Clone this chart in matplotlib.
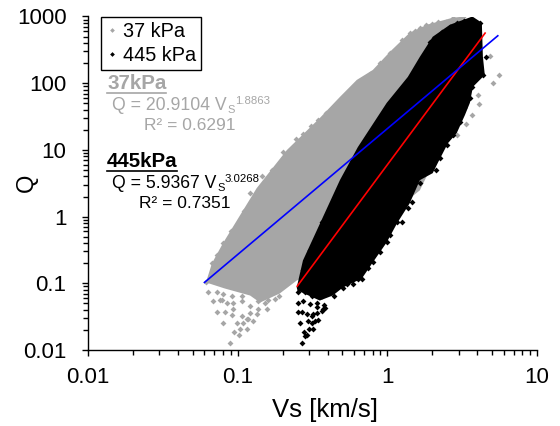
import matplotlib
matplotlib.use("Agg")
import matplotlib.pyplot as plt
import matplotlib.ticker as mticker
from matplotlib.lines import Line2D

plt.rcParams['font.family'] = ['Liberation Sans', 'DejaVu Sans']

# Dense body of each cloud (Vs, Q)
gray_body_vs = [0.0614,0.0673,0.0796,0.0989,0.134,0.213,0.354,0.482,0.625,0.80,1.04,1.41,1.84,2.74,3.19,3.56,3.56,1.65,0.354,0.248,0.191,0.141,0.121,0.082]
gray_body_q  = [0.103,0.199,0.396,0.879,2.67,9.93,30.1,62.2,112,158,295,570,753,960,993,631,87,2.48,0.156,0.110,0.0703,0.0514,0.0656,0.0836]
black_body_vs = [0.252,0.248,0.273,0.338,0.482,0.635,0.99,1.37,1.65,2.01,2.62,3.7,4.28,4.35,4.48,3.73,3.56,3.30,2.91,2.54,2.17,2.01,1.65,1.41,1.16,0.99,0.80,0.676,0.505,0.432,0.354,0.26]
black_body_q  = [0.0753,0.0865,0.220,0.622,3.52,11.0,50.6,124,249,497,753,1000,807,249,133,88,50.6,33.3,17.9,12.6,6.33,4.48,3.52,1.58,0.79,0.41,0.206,0.118,0.0865,0.0656,0.0551,0.0753]

# Individually visible points around the edges
gray_pts_vs = [5.56,5.07,4.03,4.08,3.67,3.34,2.91,4.84,3.19,2.74,2.46,2.17,1.98,1.81,1.65,1.53,1.41,1.25,1.04,
               0.0887,0.102,0.0944,0.115,0.0796,0.0989,0.134,0.0726,0.082,0.157,0.0683,0.0783,0.188,0.0619,0.0673,0.0726,0.0796,
               0.245,0.273,0.308,0.344,0.388,0.439,0.520,0.579,0.676,0.764,0.891,0.200,0.169,0.145,0.120,0.110,0.0902,
               0.1035,0.108,0.0929,0.126,0.117,0.0914,0.107,0.121,0.136,0.115,0.076,0.0847,0.0929,0.107,0.159,0.0632,0.0726,0.0796,0.0914,0.107,0.121,0.136,0.152,0.177]
gray_pts_q  = [133,100,66.7,48.9,33.3,24.4,16.7,257,993,960,836,836,780,753,679,612,570,448,285,
               0.0129,0.017,0.0188,0.0209,0.0257,0.0257,0.0352,0.0377,0.0377,0.0417,0.055,0.057,0.0656,0.103,0.199,0.262,0.396,
               14.5,17.3,22.7,28.1,35.7,45.5,60.1,76.6,105,138,202,9.27,5.0,4.04,2.24,1.2,0.6,
               0.0209,0.0257,0.0418,0.0276,0.0296,0.034,0.0328,0.0364,0.0418,0.0296,0.057,0.0514,0.0514,0.0551,0.057,0.0753,0.0753,0.0703,0.0656,0.0656,0.0463,0.0551,0.0514,0.059]
black_pts_vs = [0.269,0.281,0.299,0.260,0.328,0.294,0.252,0.382,0.338,0.439,0.505,0.676,0.589,0.80,0.99,1.16,1.25,1.46,
                0.277,0.313,0.344,0.318,0.365,0.269,
                3.24,2.91,4.15,2.62,2.31,3.96,4.55,4.35,3.67,4.03,1.92,3.56,3.24,3.05,2.74,2.50,2.24,2.11,1.65,1.37,1.04,0.891,0.741,0.589,
                0.260,0.273,0.303,0.365,
                0.290,0.318,0.290,0.313,0.338,0.371,0.252,0.273,0.303,0.338,0.377,0.252,0.281,0.313,0.365,0.536,0.635]
black_pts_q  = [0.0129,0.0164,0.0209,0.0257,0.0275,0.0275,0.0377,0.0433,0.0448,0.0656,0.0865,0.118,0.118,0.206,0.41,0.82,0.82,1.64,
                0.0188,0.0257,0.0286,0.0352,0.039,0.0377,
                865,807,807,701,590,570,249,133,88,188,418,60.1,42.5,26.2,16.7,11.8,7.53,4.97,3.16,1.33,0.524,0.290,0.167,0.0993,
                0.0927,0.156,0.311,0.82,
                0.017,0.0209,0.0352,0.0328,0.0364,0.0418,0.0514,0.0551,0.0497,0.0514,0.048,0.0753,0.0728,0.0656,0.0656,0.0993,0.118]

# Fitted lines (end points)
fit37_vs, fit37_q = [0.06, 5.47], [0.103, 514]
fit445_vs, fit445_q = [0.25, 4.5], [0.0906, 564]

GRAY = '#a6a6a6'
fig = plt.figure(figsize=(5.6, 4.26), dpi=100)
ax = fig.add_axes([88/560, 1-350/426, (537-88)/560, (350-16.5)/426])
ax.set_xscale('log'); ax.set_yscale('log')
ax.set_xlim(0.01, 10); ax.set_ylim(0.01, 1000)

ax.fill(gray_body_vs, gray_body_q, color=GRAY, lw=0, zorder=2)
ax.scatter(gray_pts_vs, gray_pts_q, s=9, marker='D', color=GRAY, lw=0, zorder=2)
ax.fill(black_body_vs, black_body_q, color='black', lw=0, zorder=3)
ax.scatter(black_pts_vs, black_pts_q, s=9, marker='D', color='black', lw=0, zorder=3)
ax.plot(fit37_vs, fit37_q, color='#0000ff', lw=1.2, zorder=5)
ax.plot(fit445_vs, fit445_q, color='#ff0000', lw=1.2, zorder=4)

for s in ('top', 'right'):
    ax.spines[s].set_visible(False)
for s in ('left', 'bottom'):
    ax.spines[s].set_linewidth(1.0)
ax.set_xticks([0.01, 0.1, 1, 10]); ax.set_xticklabels(['0.01', '0.1', '1', '10'])
ax.set_yticks([0.01, 0.1, 1, 10, 100, 1000]); ax.set_yticklabels(['0.01', '0.1', '1', '10', '100', '1000'])
ax.xaxis.set_minor_locator(mticker.LogLocator(10, subs=range(2, 10), numticks=6))
ax.yaxis.set_minor_locator(mticker.LogLocator(10, subs=range(2, 10), numticks=8))
ax.xaxis.set_minor_formatter(mticker.NullFormatter())
ax.yaxis.set_minor_formatter(mticker.NullFormatter())
ax.tick_params(which='major', length=4.5, width=1, labelsize=16)
ax.tick_params(which='minor', length=3.5, width=1)
ax.tick_params(axis='y', which='major', pad=11)
ax.tick_params(axis='x', which='major', pad=8)
ax.set_xlabel('Vs [km/s]', fontsize=18.5)
ax.set_ylabel('Q', fontsize=17)
ax.xaxis.set_label_coords(324.5/560, 1-417/426, transform=fig.transFigure)
ax.xaxis.label.set_va('baseline')
ax.yaxis.set_label_coords(27/560, 1-183/426, transform=fig.transFigure)
ax.yaxis.label.set_va('center')

handles = [Line2D([], [], ls='', marker='D', ms=2.4, color=GRAY, mew=0),
           Line2D([], [], ls='', marker='D', ms=2.4, color='black', mew=0)]
leg = fig.legend(handles, ['37 kPa', '445 kPa'], loc='upper left', bbox_to_anchor=(101/560, 1-17/426),
                 fontsize=14.3, frameon=True, fancybox=False, edgecolor='black', framealpha=1,
                 borderpad=0.25, labelspacing=0.25, handletextpad=0.25, handlelength=0.6, borderaxespad=0)
leg.get_frame().set_linewidth(1.0)

def t(x, y, s, **kw):
    return fig.text(x/560, 1-y/426, s, va='baseline', **kw)

def rule(x0, x1, y, color):
    fig.add_artist(Line2D([x0/560, x1/560], [1-y/426, 1-y/426], color=color, lw=1.2))

t(107, 89, '37kPa', color=GRAY, fontsize=14.8, fontweight='bold')
rule(107, 166, 93, GRAY)
t(112, 110, 'Q = 20.9104 V', color=GRAY, fontsize=12.7)
t(227, 113, 'S', color=GRAY, fontsize=8)
t(235, 104, '1.8863', color=GRAY, fontsize=8.2)
t(144, 130, 'R² = 0.6291', color=GRAY, fontsize=12.5)
t(107, 167, '445kPa', color='black', fontsize=14.8, fontweight='bold')
rule(107, 177, 171, 'black')
t(112, 188, 'Q = 5.9367 V', color='black', fontsize=12.7)
t(217, 191, 'S', color='black', fontsize=8)
t(225, 182, '3.0268', color='black', fontsize=8.2)
t(139, 208, 'R² = 0.7351', color='black', fontsize=12.5)

fig.savefig('out.png', dpi=100)
